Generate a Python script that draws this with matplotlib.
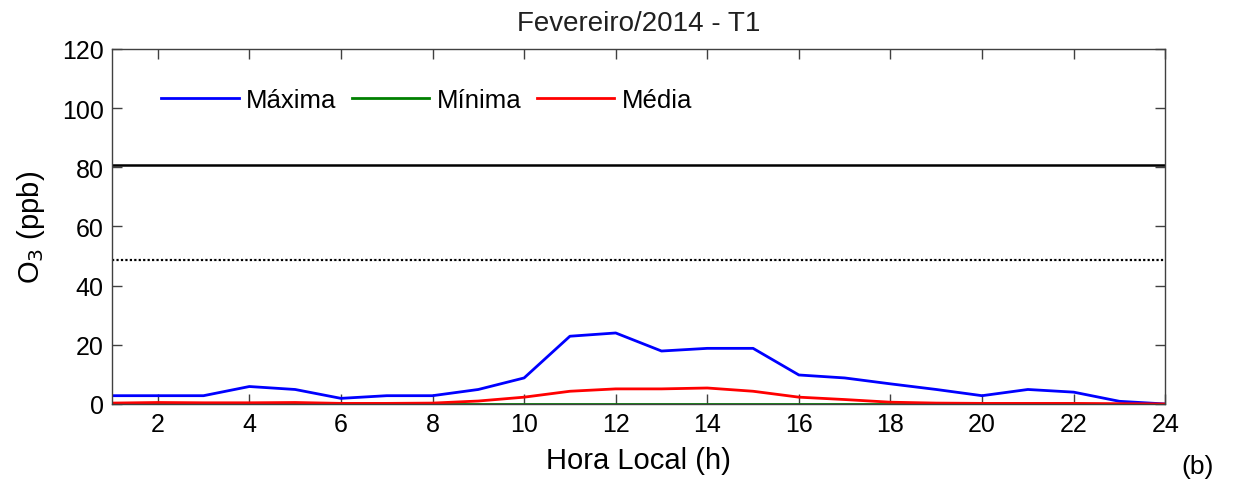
import matplotlib
matplotlib.use("Agg")
import matplotlib.pyplot as plt
import numpy as np

plt.rcParams['font.family'] = ['Liberation Sans', 'DejaVu Sans']

# Hourly ozone (ppb), February 2014 - T1
hours = np.arange(1, 25)
maxima = [2.8, 2.8, 2.8, 5.9, 4.9, 1.9, 2.8, 2.8, 4.9, 8.8, 22.9, 24.0,
          17.9, 18.8, 18.8, 9.8, 8.8, 6.8, 4.9, 2.8, 4.9, 4.0, 0.9, 0.0]
minima = [0.0] * 24
media = [0.3, 0.5, 0.4, 0.4, 0.5, 0.2, 0.2, 0.3, 1.0, 2.3, 4.3, 5.1,
         5.1, 5.4, 4.3, 2.3, 1.5, 0.6, 0.3, 0.2, 0.2, 0.2, 0.1, 0.0]

# Reference levels
limite_solido = 80.9
limite_pontilhado = 48.6

axis_color = "#404040"

fig = plt.figure(figsize=(12.37, 4.85), dpi=100)
ax = fig.add_axes([0.0905, 0.165, 0.8515, 0.732])

ax.plot(hours, maxima, color="blue", lw=2, label="Máxima")
ax.plot(hours, minima, color="green", lw=2, label="Mínima")
ax.plot(hours, media, color="red", lw=2, label="Média")

ax.axhline(limite_solido, color="black", lw=1.8)
ax.axhline(limite_pontilhado, color="black", lw=1.6, ls=(0, (1, 1)))

ax.set_xlim(1, 24)
ax.set_ylim(0, 120)
ax.set_xticks(np.arange(2, 25, 2))
ax.set_yticks(np.arange(0, 121, 20))
ax.tick_params(direction="in", top=True, right=True, length=7,
               labelsize=18, width=1, color=axis_color, pad=6)
for s in ax.spines.values():
    s.set_linewidth(1)
    s.set_color(axis_color)

ax.set_title("Fevereiro/2014 - T1", fontsize=20, color="#202020", pad=14)
ax.set_xlabel("Hora Local (h)", fontsize=21)
ax.set_ylabel("O$_3$ (ppb)", fontsize=21)
ax.xaxis.set_label_coords(0.5, -0.118)
ax.yaxis.set_label_coords(-0.062, 0.5)

ax.legend(loc="center left", ncol=3, frameon=False, fontsize=18.5,
          bbox_to_anchor=(0.047, 0.855), borderaxespad=0, borderpad=0,
          handlelength=3.0, handletextpad=0.3, columnspacing=0.6)

fig.text(0.968, 0.037, "(b)", fontsize=19, ha="center", va="center")

fig.savefig("out.png", dpi=100)
